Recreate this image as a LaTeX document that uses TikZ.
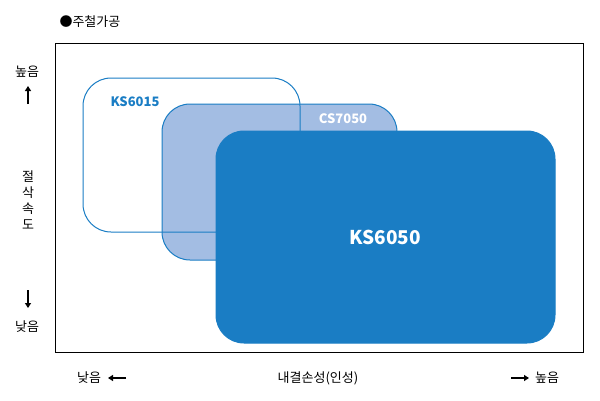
\documentclass[tikz,border=0pt]{standalone}
\usepackage{fontspec}
\usetikzlibrary{arrows.meta}
\setmainfont{Noto Sans CJK KR}
\definecolor{dblue}{HTML}{1A7DC4}
\definecolor{lblue}{HTML}{A3BDE3}
\begin{document}
\begin{tikzpicture}[x=1pt,y=-1pt,
  lbl/.style={font=\fontsize{13}{15}\selectfont},
  ax/.style={line width=1.6pt,-{Triangle[length=5pt,width=6pt]}},
  box/.style={rounded corners=28pt,draw=dblue,line width=1pt}]
\useasboundingbox (0,0) rectangle (600,400);
\node[lbl,anchor=west] (t) at (56,22) {●주철가공};
\node[draw,line width=1.2pt,minimum width=528pt,minimum height=309pt,anchor=north west] (f) at (55,43) {};
\draw[box,fill=lblue] (162,104) rectangle (397,260);
\draw[box] (83,78) rectangle (300,232);
\draw[box,fill=dblue] (216,131) rectangle (555,343);
\node[font=\bfseries\fontsize{13}{15}\selectfont,text=dblue] (a) at (135,102) {KS6015};
\node[font=\bfseries\fontsize{13}{15}\selectfont,text=white] (b) at (343,119) {CS7050};
\node[font=\bfseries\fontsize{19}{22}\selectfont,text=white] (c) at (385,237) {KS6050};
\node[lbl] (h1) at (27,72) {높음};
\coordinate (u1) at (28,104); \coordinate (u2) at (28,86);
\draw[ax] (u1) -- (u2);
\node[lbl,align=center,font=\fontsize{13}{16}\selectfont] (v) at (28,200) {절\\삭\\속\\도};
\coordinate (d1) at (28,290); \coordinate (d2) at (28,308);
\draw[ax] (d1) -- (d2);
\node[lbl] (l1) at (27,327) {낮음};
\node[lbl] (l2) at (89,378) {낮음};
\coordinate (la) at (126,378); \coordinate (lb) at (108,378);
\draw[ax] (la) -- (lb);
\node[lbl] (x) at (318,378) {내결손성(인성)};
\coordinate (ra) at (511,378); \coordinate (rb) at (529,378);
\draw[ax] (ra) -- (rb);
\node[lbl] (h2) at (547,378) {높음};
\end{tikzpicture}
\end{document}
